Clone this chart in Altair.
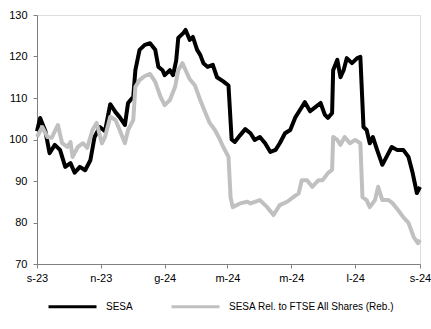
import altair as alt
import pandas as pd

sesa_dates = [
    "2023-09-01", "2023-09-04", "2023-09-09", "2023-09-13", "2023-09-18", "2023-09-23",
    "2023-09-28", "2023-10-03", "2023-10-07", "2023-10-12", "2023-10-17", "2023-10-22",
    "2023-10-26", "2023-10-31", "2023-11-05", "2023-11-10", "2023-11-15", "2023-11-19",
    "2023-11-24", "2023-11-27", "2023-12-02", "2023-12-04", "2023-12-08", "2023-12-13",
    "2023-12-18", "2023-12-23", "2023-12-26", "2023-12-30", "2024-01-01", "2024-01-06",
    "2024-01-09", "2024-01-12", "2024-01-14", "2024-01-19", "2024-01-21", "2024-01-25",
    "2024-01-28", "2024-02-01", "2024-02-04", "2024-02-07", "2024-02-11", "2024-02-16",
    "2024-02-20", "2024-02-26", "2024-03-02", "2024-03-05", "2024-03-08", "2024-03-13",
    "2024-03-18", "2024-03-23", "2024-03-27", "2024-04-01", "2024-04-06", "2024-04-11",
    "2024-04-16", "2024-04-20", "2024-04-25", "2024-04-30", "2024-05-05", "2024-05-09",
    "2024-05-14", "2024-05-19", "2024-05-24", "2024-05-29", "2024-06-02", "2024-06-05",
    "2024-06-09", "2024-06-10", "2024-06-14", "2024-06-17", "2024-06-20", "2024-06-23",
    "2024-06-28", "2024-07-03", "2024-07-06", "2024-07-09", "2024-07-12", "2024-07-15",
    "2024-07-18", "2024-07-22", "2024-07-27", "2024-08-01", "2024-08-05", "2024-08-10",
    "2024-08-16", "2024-08-21", "2024-08-25", "2024-08-29", "2024-09-01",
]
sesa_values = [
    102.0, 105.2, 102.0, 96.7, 98.7, 97.5,
    93.4, 94.3, 92.0, 93.4, 92.6, 95.0,
    100.6, 103.0, 102.0, 108.5, 106.6, 105.4,
    103.5, 108.8, 110.3, 116.7, 121.6, 122.8,
    123.2, 121.6, 117.5, 116.7, 115.5, 116.7,
    115.5, 119.0, 124.5, 125.7, 126.4, 124.0,
    124.7, 121.6, 120.4, 118.4, 117.5, 118.0,
    115.0, 114.0, 113.0, 100.0, 99.4, 101.0,
    102.5, 101.5, 99.9, 100.6, 99.1, 97.0,
    97.5, 99.1, 101.5, 102.3, 105.4, 107.0,
    109.0, 106.8, 107.8, 108.8, 106.0, 105.2,
    106.4, 116.7, 119.2, 115.0, 116.7, 119.6,
    118.4, 119.6, 119.9, 103.0, 102.3, 99.1,
    100.6, 97.5, 93.9, 96.3, 98.2, 97.5,
    97.5, 95.8, 91.9, 87.1, 88.6,
]

rel_dates = [
    "2023-09-01", "2023-09-06", "2023-09-11", "2023-09-15", "2023-09-21", "2023-09-25",
    "2023-09-30", "2023-10-03", "2023-10-05", "2023-10-10", "2023-10-15", "2023-10-19",
    "2023-10-24", "2023-10-28", "2023-11-02", "2023-11-05", "2023-11-10", "2023-11-15",
    "2023-11-19", "2023-11-24", "2023-11-27", "2023-12-02", "2023-12-04", "2023-12-08",
    "2023-12-13", "2023-12-18", "2023-12-23", "2023-12-28", "2024-01-01", "2024-01-06",
    "2024-01-11", "2024-01-14", "2024-01-18", "2024-01-21", "2024-01-25", "2024-01-30",
    "2024-02-04", "2024-02-09", "2024-02-13", "2024-02-18", "2024-02-22", "2024-02-26",
    "2024-03-02", "2024-03-04", "2024-03-06", "2024-03-13", "2024-03-20", "2024-03-23",
    "2024-04-01", "2024-04-08", "2024-04-14", "2024-04-20", "2024-04-27", "2024-05-03",
    "2024-05-08", "2024-05-11", "2024-05-16", "2024-05-21", "2024-05-27", "2024-05-31",
    "2024-06-05", "2024-06-09", "2024-06-10", "2024-06-14", "2024-06-17", "2024-06-21",
    "2024-06-26", "2024-07-01", "2024-07-06", "2024-07-08", "2024-07-12", "2024-07-15",
    "2024-07-20", "2024-07-23", "2024-07-27", "2024-08-02", "2024-08-06", "2024-08-11",
    "2024-08-16", "2024-08-21", "2024-08-26", "2024-08-30", "2024-09-01",
]
rel_values = [
    100.6, 103.0, 100.6, 100.4, 103.5, 99.1,
    98.2, 99.4, 95.8, 98.2, 99.1, 98.0,
    102.3, 104.0, 99.1, 100.6, 105.5, 104.7,
    102.3, 99.1, 102.3, 104.7, 112.7, 114.3,
    115.3, 115.8, 113.9, 110.3, 108.3, 109.5,
    112.7, 116.7, 118.4, 116.7, 114.5, 113.0,
    109.5, 106.4, 104.0, 102.3, 100.4, 98.2,
    95.8, 86.0, 83.7, 84.6, 85.0, 84.6,
    85.4, 83.7, 81.8, 84.2, 85.0, 86.1,
    87.0, 90.2, 90.2, 88.6, 90.2, 90.2,
    91.9, 92.7, 100.6, 99.9, 98.7, 100.6,
    99.1, 99.9, 99.1, 86.1, 85.4, 83.7,
    85.4, 88.6, 85.4, 85.4, 84.6, 83.0,
    81.3, 79.9, 76.5, 75.0, 75.8,
]

series_names = ["SESA", "SESA Rel. to FTSE All Shares (Reb.)"]
series_colors = ["#000000", "#c0c0c0"]

tick_dates = ["2023-09-01", "2023-11-01", "2024-01-01", "2024-03-01",
              "2024-05-01", "2024-07-01", "2024-09-01"]
month_initials = ["g", "f", "m", "a", "m", "g", "l", "a", "s", "o", "n", "d"]
y_ticks = [70, 80, 90, 100, 110, 120, 130]

df_sesa = pd.DataFrame({"date": sesa_dates, "value": sesa_values, "series": series_names[0]})
df_rel = pd.DataFrame({"date": rel_dates, "value": rel_values, "series": series_names[1]})

font = "Liberation Sans"
months_js = "[" + ",".join("'" + m + "'" for m in month_initials) + "]"
label_expr = months_js + "[utcmonth(datum.value)] + '-' + utcFormat(datum.value, '%y')"

tick_dt = []
for d in tick_dates:
    y, m, dd = d.split("-")
    tick_dt.append(alt.DateTime(year=int(y), month=int(m), date=int(dd), utc=True))

x_enc = alt.X(
    "date:T",
    scale=alt.Scale(type="utc",
                    domain=[alt.DateTime(year=2023, month=9, date=1, utc=True),
                            alt.DateTime(year=2024, month=9, date=1, utc=True)]),
    axis=alt.Axis(values=tick_dt, labelExpr=label_expr, title=None, grid=False,
                  domainColor="#808080", tickColor="#808080", tickSize=4,
                  labelFont=font, labelFontSize=11, labelColor="#000000",
                  labelPadding=4, labelFlush=False, labelOverlap=False),
)
y_enc = alt.Y(
    "value:Q",
    scale=alt.Scale(domain=[70, 130], nice=False, zero=False),
    axis=alt.Axis(values=y_ticks, title=None, grid=False,
                  domainColor="#808080", tickColor="#808080", tickSize=4,
                  labelFont=font, labelFontSize=11, labelColor="#000000",
                  labelPadding=6),
)
color_enc = alt.Color(
    "series:N",
    scale=alt.Scale(domain=series_names, range=series_colors),
    legend=alt.Legend(
        title=None, orient="none", direction="horizontal",
        legendX=10, legendY=266,
        symbolType="stroke", symbolSize=2304, symbolStrokeWidth=3,
        labelFont=font, labelFontSize=10, labelColor="#000000",
        labelOffset=8, columnPadding=32, labelLimit=400,
    ),
)

black = alt.Chart(df_sesa).mark_line(strokeWidth=4, strokeJoin="round").encode(
    x=x_enc, y=y_enc, color=color_enc)
gray = alt.Chart(df_rel).mark_line(strokeWidth=4, strokeJoin="round").encode(
    x=x_enc, y=y_enc, color=color_enc)

chart = alt.layer(black, gray).properties(
    width=383, height=249,
    autosize=alt.AutoSizeParams(type="none"),
    padding={"left": 37, "top": 15, "right": 11, "bottom": 65},
).configure_view(stroke=None).configure(background="#ffffff")

chart.save("out.html", embed_options={"renderer": "svg", "actions": False})
